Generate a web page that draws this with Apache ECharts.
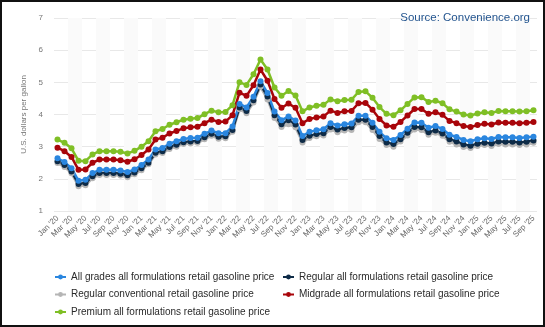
<!DOCTYPE html>
<html><head><meta charset="utf-8">
<script src="https://cdn.jsdelivr.net/npm/echarts@6/dist/echarts.min.js"></script>
<style>html,body{margin:0;padding:0;background:#fff}#c{width:545px;height:327px;box-sizing:border-box;border:2px solid #111}</style>
</head><body><div id="c"></div>
<script>
const months = ['Jan','Feb','Mar','Apr','May','Jun','Jul','Aug','Sep','Oct','Nov','Dec'];
const categories = [];
for (let y = 20; y <= 25; y++) for (let m = 0; m < 12; m++) { if (y === 25 && m > 8) break; categories.push(months[m] + " '" + y); }

const allGrades = [2.64,2.52,2.33,1.94,1.97,2.18,2.28,2.28,2.28,2.26,2.21,2.29,
 2.43,2.60,2.91,2.96,3.09,3.17,3.24,3.27,3.28,3.40,3.50,3.42,
 3.42,3.63,4.33,4.22,4.55,5.03,4.67,4.09,3.82,3.94,3.81,3.33,
 3.46,3.51,3.54,3.73,3.66,3.70,3.72,3.96,3.96,3.74,3.46,3.26,
 3.21,3.36,3.56,3.75,3.74,3.59,3.64,3.55,3.37,3.30,3.21,3.17,
 3.23,3.26,3.24,3.30,3.29,3.29,3.27,3.29,3.31];
const regular = [2.55,2.43,2.23,1.84,1.87,2.08,2.18,2.18,2.18,2.16,2.11,2.20,
 2.33,2.50,2.81,2.86,2.99,3.06,3.14,3.16,3.18,3.29,3.40,3.31,
 3.32,3.52,4.22,4.11,4.44,4.93,4.56,3.98,3.70,3.82,3.69,3.21,
 3.34,3.39,3.42,3.61,3.53,3.58,3.60,3.84,3.84,3.61,3.33,3.13,
 3.08,3.23,3.43,3.61,3.60,3.45,3.50,3.41,3.23,3.16,3.07,3.03,
 3.09,3.12,3.10,3.16,3.15,3.15,3.13,3.15,3.19];
const conventional = [2.49,2.37,2.17,1.77,1.80,2.02,2.12,2.12,2.12,2.10,2.05,2.14,
 2.27,2.45,2.76,2.80,2.93,3.00,3.08,3.10,3.12,3.23,3.34,3.25,
 3.26,3.46,4.16,4.04,4.37,4.86,4.47,3.89,3.61,3.70,3.60,3.13,
 3.27,3.32,3.35,3.53,3.45,3.50,3.52,3.76,3.76,3.52,3.24,3.05,
 3.00,3.16,3.35,3.53,3.52,3.37,3.43,3.34,3.15,3.07,2.99,2.96,
 3.02,3.05,3.02,3.08,3.07,3.07,3.05,3.07,3.12];
const midgrade = [2.97,2.86,2.68,2.28,2.29,2.50,2.60,2.60,2.60,2.58,2.53,2.61,
 2.74,2.91,3.22,3.28,3.41,3.49,3.57,3.60,3.62,3.73,3.84,3.77,
 3.78,3.98,4.68,4.58,4.91,5.40,5.05,4.48,4.21,4.34,4.21,3.73,
 3.86,3.91,3.94,4.12,4.05,4.10,4.11,4.35,4.36,4.15,3.86,3.66,
 3.62,3.77,3.97,4.17,4.17,4.02,4.07,3.99,3.80,3.73,3.64,3.61,
 3.67,3.71,3.69,3.75,3.74,3.74,3.73,3.74,3.77];
const premium = [3.22,3.12,2.95,2.56,2.55,2.76,2.86,2.86,2.86,2.84,2.79,2.87,
 3.00,3.17,3.48,3.55,3.68,3.76,3.84,3.87,3.89,4.01,4.12,4.07,
 4.08,4.29,5.00,4.92,5.25,5.71,5.40,4.84,4.58,4.73,4.59,4.10,
 4.22,4.27,4.30,4.47,4.41,4.45,4.46,4.70,4.72,4.52,4.23,4.02,
 3.98,4.13,4.33,4.53,4.54,4.39,4.43,4.35,4.16,4.09,4.00,3.97,
 4.03,4.07,4.05,4.11,4.10,4.10,4.09,4.10,4.13];

const names = ['All grades all formulations retail gasoline price','Regular all formulations retail gasoline price','Regular conventional retail gasoline price','Midgrade all formulations retail gasoline price','Premium all formulations retail gasoline price'];
const colors = ['#2a86df','#0e2b47','#b5b5b5','#a8050a','#7fbf25'];
const values = [allGrades, regular, conventional, midgrade, premium];
const order = [2,1,0,3,4];

const chart = echarts.init(document.getElementById('c'), null, {renderer:'canvas'});
const legendText = {fontFamily:'Liberation Sans', fontSize:10, color:'#2a2a2a', lineHeight:12};
chart.setOption({
  animation:false,
  textStyle:{fontFamily:'Liberation Sans'},
  title:{text:'Source: Convenience.org', right:8, top:5, textStyle:{fontSize:11.5, fontWeight:'normal', color:'#24558f', fontFamily:'Liberation Sans'}},
  grid:{left:52, right:6, top:16, bottom:114},
  legend:[
    {data:[names[0],names[2],names[4]], orient:'vertical', left:52, top:269, padding:0, height:60, itemGap:5.5, itemWidth:11, itemHeight:6, textStyle:legendText},
    {data:[names[1],names[3]], orient:'vertical', left:280, top:269, padding:0, height:60, itemGap:5.5, itemWidth:11, itemHeight:6, textStyle:legendText}
  ],
  xAxis:{type:'category', data:categories, boundaryGap:true,
    axisLine:{show:false}, axisTick:{show:false},
    axisLabel:{interval:1, rotate:45, fontSize:8, color:'#666', margin:6},
    splitArea:{show:true, interval:1, areaStyle:{color:['rgba(0,0,0,0)','#fafafa']}},
    splitLine:{show:false}},
  yAxis:{type:'value', min:1, max:7, interval:1,
    name:'U.S. dollars per gallon', nameLocation:'middle', nameGap:14,
    nameTextStyle:{fontSize:8, color:'#777'},
    axisLabel:{fontSize:8, color:'#777', margin:11},
    axisLine:{show:false}, axisTick:{show:false},
    splitLine:{lineStyle:{color:'#e8e8e8'}}},
  series: order.map(i => ({
    name:names[i], type:'line', data:values[i], color:colors[i],
    symbol:'circle', symbolSize:6, showSymbol:true, showAllSymbol:true,
    lineStyle:{width:2.5, color:colors[i]}, itemStyle:{color:colors[i]}
  }))
});
</script></body></html>
